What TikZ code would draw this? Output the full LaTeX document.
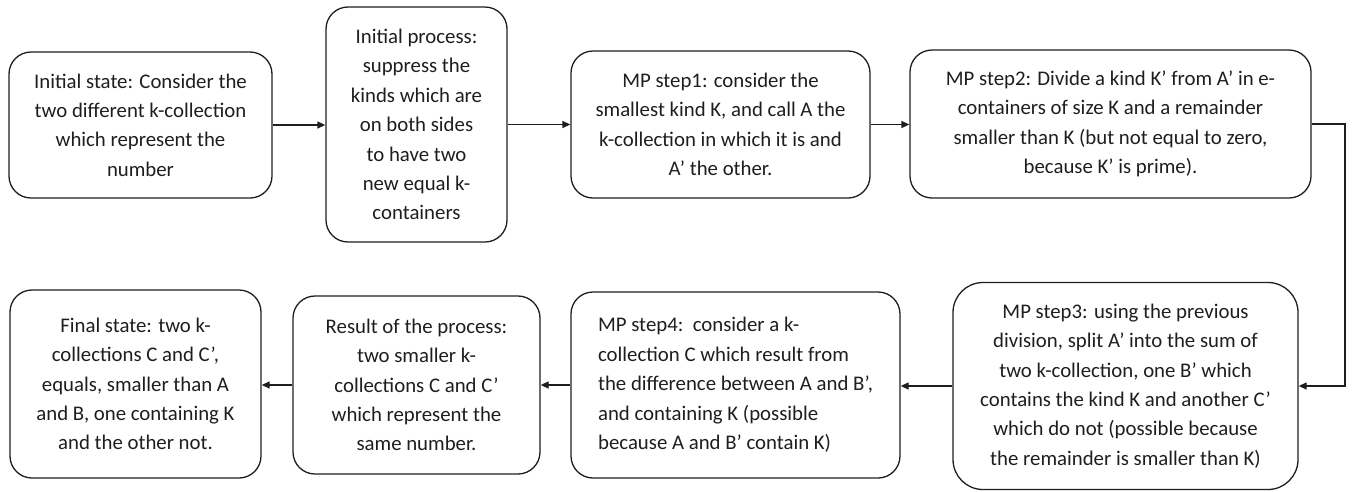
\documentclass[tikz,border=0pt]{standalone}
\usepackage{fontspec}
\setmainfont{Carlito}
\usetikzlibrary{arrows.meta}
\definecolor{ink}{HTML}{1E1E1E}
\begin{document}
\begin{tikzpicture}[x=1pt,y=-1pt,
  box/.style={draw=ink, line width=1.3pt, rounded corners=22pt, inner sep=0pt,
    text=ink, align=center, font=\fontsize{20.8}{29.4}\selectfont},
  arr/.style={draw=ink, line width=1.3pt, -{Triangle[length=8pt,width=7pt]}}]
\useasboundingbox (0,0) rectangle (1356,491);
\node[box, minimum width=263pt, minimum height=146pt] (b1) at (140.5,125)
  {Initial state: Consider the\\two different k-collection\\which represent the\\number};
\node[box, minimum width=181pt, minimum height=235pt] (b2) at (416.5,124.5)
  {Initial process:\\suppress the\\kinds which are\\on both sides\\to have two\\new equal k-\\containers};
\node[box, minimum width=299pt, minimum height=147pt] (b3) at (720.5,124.5)
  {MP step1: consider the\\smallest kind K, and call A the\\k-collection in which it is and\\A’ the other.};
\node[box, minimum width=401pt, minimum height=148pt] (b4) at (1110.5,124)
  {MP step2: Divide a kind K’ from A’ in e-\\containers of size K and a remainder\\smaller than K (but not equal to zero,\\because K’ is prime).};
\node[box, rounded corners=30pt, minimum width=345pt, minimum height=207pt] (b5) at (1125.5,386)
  {MP step3: using the previous\\division, split A’ into the sum of\\two k-collection, one B’ which\\contains the kind K and another C’\\which do not (possible because\\the remainder is smaller than K)};
\node[box, align=left, minimum width=329pt, minimum height=186pt] (b6) at (735.5,385)
  {MP step4:\ \ consider a k-\\collection C which result from\\the difference between A and B’,\\and containing K (possible\\because A and B’ contain K)};
\node[box, minimum width=247pt, minimum height=178pt] (b7) at (416.5,385)
  {Result of the process:\\two smaller k-\\collections C and C’\\which represent the\\same number.};
\node[box, minimum width=251pt, minimum height=188pt] (b8) at (135.5,384)
  {Final state: two k-\\collections C and C’,\\equals, smaller than A\\and B, one containing K\\and the other not.};
\coordinate (turn) at (1345,386);
\draw[arr] (b1.east) -- (b1.east -| b2.west);
\draw[arr] (b2.east) -- (b2.east -| b3.west);
\draw[arr] (b3.east) -- (b3.east -| b4.west);
\draw[arr] (b4.east) -| (turn) -- (b5.east);
\draw[arr] (b5.west) -- (b5.west -| b6.east);
\draw[arr] (b6.west) -- (b6.west -| b7.east);
\draw[arr] (b7.west) -- (b7.west -| b8.east);
\end{tikzpicture}
\end{document}
